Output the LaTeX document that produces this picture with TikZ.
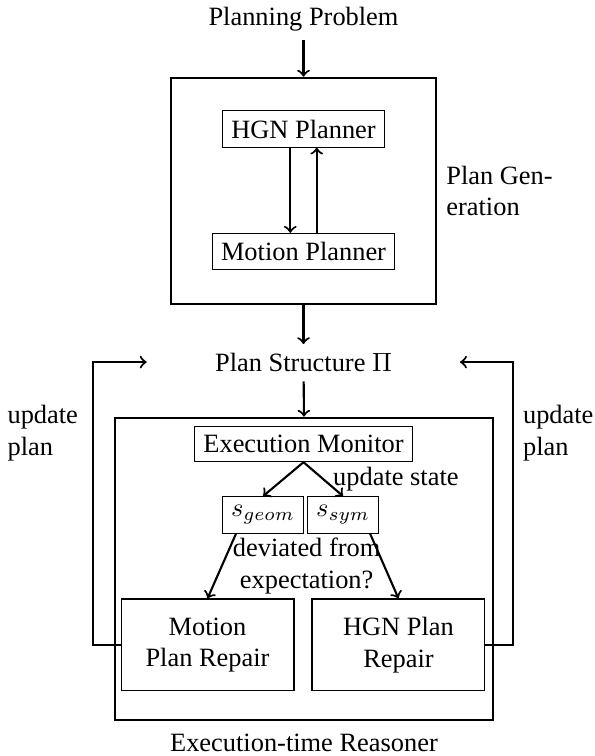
\documentclass[tikz,border=0pt]{standalone}
\usepackage{fontspec}
\setmainfont{Liberation Serif}
\usetikzlibrary{positioning}
\tikzset{
  blk/.style={draw},
  frm/.style={draw, thick},
  rep/.style={draw, align=center, minimum width=2.302cm, minimum height=1.224cm},
  flow/.style={->, thick}
}

\begin{document}
\begin{tikzpicture}
    \useasboundingbox (0,0) rectangle (7.907,-10.063);
    % plan generation
    \node (prob) at (4.04,-0.252) {Planning Problem};
    \node[frm, minimum width=3.527cm, minimum height=3.012cm] (gen) at (4.04,-2.541) {};
    \node[right=0pt of gen, align=left] (genlbl) {Plan Gen-\\eration};
    \node[blk] (hgn) at (4.04,-1.717) {HGN Planner};
    \node[blk] (mot) at (4.04,-3.347) {Motion Planner};
    \draw[flow] (prob) -- (gen);
    \draw[flow] ([xshift=-5pt]hgn.south) -- ([xshift=-5pt]mot.north);
    \draw[flow] ([xshift=5pt]mot.north) -- ([xshift=5pt]hgn.south);
    \node (plan) at (4.04,-4.828) {Plan Structure $\Pi$};
    \draw[flow] (gen) -- (plan);
    % execution-time reasoner
    \node[frm, minimum width=5.031cm, minimum height=4.024cm] (exe) at (4.046,-7.572) {};
    \node[below=1.5pt of exe] (exelbl) {Execution-time Reasoner};
    \draw[flow] (plan) -- (exe.north);
    \node[blk] (mon) at (4.04,-5.910) {Execution Monitor};
    \node[blk] (sgeom) at (3.501,-6.855) {$s_{geom}$};
    \node[blk, right=1pt of sgeom] (ssym) {$s_{sym}$};
    \draw[flow] (mon.south) -- (sgeom.north);
    \draw[flow] (mon.south) -- (ssym.north) node[midway, right] (upd) {update state};
    \node[align=center] (dev) at (4.082,-7.533) {deviated from\\expectation?};
    \node[rep] (mrep) at (2.762,-8.585) {Motion\\Plan Repair};
    \node[rep] (hrep) at (5.304,-8.585) {HGN Plan\\Repair};
    \draw[flow] ([xshift=-0.36cm]sgeom.south) -- (mrep.north);
    \draw[flow] ([xshift=0.36cm]ssym.south) -- (hrep.north);
    % feedback to the plan structure
    \coordinate (ltip) at (1.953,-4.82);
    \coordinate (rtip) at (6.123,-4.82);
    \draw[flow] (mrep.west) -- ++(-0.365,0) coordinate (lbot) -- (lbot |- ltip)
        node[pos=.75, left, xshift=-2pt, align=left] (lupd) {update\\plan} -- (ltip);
    \draw[flow] (hrep.east) -- ++(0.369,0) coordinate (rbot) -- (rbot |- rtip)
        node[pos=.75, right, align=left] (rupd) {update\\plan} -- (rtip);
\end{tikzpicture}
\end{document}
